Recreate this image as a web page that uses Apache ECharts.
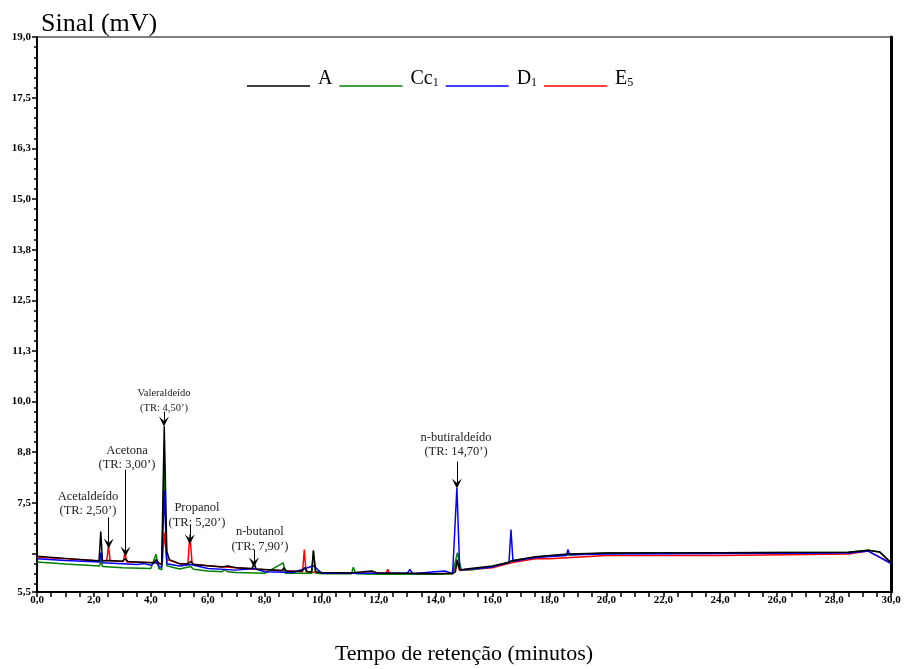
<!DOCTYPE html>
<html>
<head>
<meta charset="utf-8">
<script src="https://cdn.jsdelivr.net/npm/echarts@6/dist/echarts.min.js"></script>
<style>
  html, body { margin: 0; padding: 0; background: #fff; }
  #chart { width: 904px; height: 669px; }
</style>
</head>
<body>
<div id="chart"></div>
<script>
var serieA = [[0,6.18],[1,6.13],[2.0,6.08],[2.18,6.07],[2.24,6.79],[2.3,6.07],[2.5,6.08],[3.0,6.06],[3.1,6.12],[3.2,6.05],
  [3.8,6.03],[4.1,6.02],[4.18,6.1],[4.3,6.0],[4.38,5.98],[4.47,9.39],[4.56,6.3],[4.65,6.1],[5.0,6.0],[5.3,5.99],[5.4,6.06],
  [5.5,5.98],[6.0,5.95],[6.5,5.92],[6.7,5.94],[7.0,5.9],[7.55,5.88],[7.63,6.0],[7.7,5.87],[8.6,5.83],[8.68,5.9],[8.75,5.82],
  [9.3,5.81],[9.4,5.9],[9.5,5.8],[9.65,5.8],[9.71,6.33],[9.78,5.8],[10,5.78],[11,5.77],[11.76,5.82],[12,5.76],[13,5.76],
  [14,5.75],[14.6,5.76],[14.7,5.8],[14.76,6.1],[14.85,5.85],[15,5.86],[16,5.94],[16.55,6.03],[16.7,6.07],[17.5,6.17],
  [18,6.2],[18.65,6.24],[20,6.26],[24,6.27],[28.5,6.28],[29.2,6.33],[29.6,6.29],[30,6.02]];
var serieCc1 = [[0,6.04],[1,5.99],[2.2,5.94],[2.24,6.1],[2.3,5.93],[3,5.9],[4,5.88],[4.18,6.23],[4.28,5.88],[4.38,5.85],
  [4.47,8.5],[4.56,5.95],[5,5.87],[5.4,5.93],[5.5,5.86],[6,5.82],[6.5,5.8],[6.6,5.86],[6.7,5.8],[7,5.78],[8,5.76],
  [8.65,6.02],[8.72,5.76],[9.65,5.76],[9.71,6.3],[9.8,5.76],[10,5.75],[11.05,5.75],[11.11,5.91],[11.2,5.75],[12,5.74],
  [14,5.74],[14.6,5.75],[14.77,6.27],[14.9,5.85],[15.3,5.85],[16,5.93],[16.6,6.04],[16.7,6.08],[17.5,6.16],[18,6.19],
  [20,6.26],[24,6.27],[28.5,6.28],[29.2,6.33],[29.6,6.29],[30,6.03]];
var serieD1 = [[0,6.12],[1,6.08],[2.2,6.04],[2.24,6.27],[2.3,6.02],[3,6.0],[3.5,5.98],[3.75,6.0],[4,5.96],[4.18,6.05],
  [4.3,5.92],[4.38,5.92],[4.47,7.8],[4.56,6.0],[5,5.94],[5.4,5.98],[6,5.88],[7,5.84],[7.63,5.88],[8,5.8],[9,5.78],
  [9.71,5.95],[10,5.76],[13.0,5.76],[13.1,5.86],[13.2,5.75],[13.97,5.8],[14.33,5.82],[14.6,5.75],[14.75,7.87],
  [14.85,5.85],[15,5.85],[16,5.92],[16.58,6.03],[16.65,6.84],[16.72,6.06],[17.5,6.15],[18.6,6.2],[18.65,6.35],
  [18.72,6.22],[20,6.24],[24,6.25],[28.5,6.26],[29.2,6.31],[30,6.0]];
var serieE5 = [[0,6.16],[1,6.12],[2,6.08],[2.45,6.07],[2.51,6.45],[2.57,6.07],[3.03,6.05],[3.09,6.28],[3.15,6.04],
  [4,6.03],[4.4,6.0],[4.47,6.77],[4.56,6.1],[5,6.0],[5.3,6.0],[5.37,6.72],[5.45,5.99],[6,5.95],[7,5.9],[7.56,5.87],
  [7.63,5.91],[7.7,5.86],[9.33,5.8],[9.39,6.35],[9.45,5.8],[10,5.77],[12.26,5.76],[12.32,5.86],[12.38,5.76],[14.6,5.75],
  [14.75,6.03],[14.85,5.83],[16,5.9],[16.7,6.03],[17.5,6.12],[18,6.12],[20,6.2],[24,6.2],[28.5,6.24],[29.2,6.31],[30,6.02]];

var legendNames = ['A', 'Cc1', 'D1', 'E5'];
var lineColors = ['#000000', '#008000', '#0000ff', '#ff0000'];

// picos identificados
var picoNomes = ['Acetalde\u00eddo', 'Acetona', 'Valeralde\u00eddo', 'Propanol', 'n-butanol', 'n-butiralde\u00eddo'];
var picoTR = ['(TR: 2,50\u2019)', '(TR: 3,00\u2019)', '(TR: 4,50\u2019)', '(TR: 5,20\u2019)', '(TR: 7,90\u2019)', '(TR: 14,70\u2019)'];
var rotuloPos = [[1.79, 7.48], [3.16, 8.61], [4.46, 10.02], [5.62, 7.19], [7.83, 6.6], [14.72, 8.93]];
var setaX = [2.52, 3.11, 4.46, 5.37, 7.62, 14.75];
var setaTopo = [7.14, 8.32, 9.75, 6.97, 6.35, 8.52];
var setaPonta = [6.50, 6.30, 9.51, 6.60, 6.03, 7.98];

var xTicks = { min: 0, max: 30, interval: 2 };
var yMin = 5.3, yMax = 19;
var yLabelValues = [5.3, 7.5, 8.75, 10, 11.25, 12.5, 13.75, 15, 16.25, 17.5, 19];
var yMajorTicks = [5.3, 6.25, 7.5, 8.75, 10, 11.25, 12.5, 13.75, 15, 16.25, 17.5, 19];
var yMinorTicks = [];
for (var v = 5.5; v < 19; v += 0.25) yMinorTicks.push(+v.toFixed(2));

var serif = 'Liberation Serif';
var chart = echarts.init(document.getElementById('chart'));

function fmt(v) {
  if (v === yMin) return '5,5';
  return v.toFixed(1).replace('.', ',');
}

var chevron = 'path://M5,0 L10,9 L5,5 L0,9 Z';

var markLines = [];
var markPts = [];
for (var i = 0; i < picoNomes.length; i++) {
  markLines.push([{ coord: [setaX[i], setaTopo[i]] }, { coord: [setaX[i], setaPonta[i]] }]);
  markPts.push({
    coord: rotuloPos[i],
    value: picoNomes[i] + '\n' + picoTR[i],
    label: { fontSize: i === 2 ? 10.5 : 12.5, lineHeight: i === 2 ? 15 : 14.5 }
  });
}

var seriesData = [serieA, serieCc1, serieD1, serieE5];
var order = [3, 1, 2, 0];
var series = order.map(function (k) {
  var s = {
    name: legendNames[k],
    type: 'line',
    data: seriesData[k],
    showSymbol: false,
    symbol: 'none',
    lineStyle: { color: lineColors[k], width: 1.5 },
    itemStyle: { color: lineColors[k] },
    z: 2 + order.indexOf(k)
  };
  if (k === 0) {
    s.markLine = {
      silent: true,
      symbol: ['none', chevron],
      symbolSize: 10,
      lineStyle: { color: '#000', width: 1, type: 'solid' },
      label: { show: false },
      data: markLines
    };
    s.markPoint = {
      silent: true,
      symbol: 'circle',
      symbolSize: 1,
      itemStyle: { color: 'rgba(0,0,0,0)' },
      label: {
        show: true, position: 'inside', color: '#222', fontFamily: serif,
        formatter: function (p) { return p.value; }
      },
      data: markPts
    };
  }
  return s;
});

var option = {
  animation: false,
  backgroundColor: '#fff',
  title: {
    text: 'Sinal (mV)', left: 36, top: 6,
    textStyle: { fontFamily: serif, fontSize: 26, fontWeight: 'normal', color: '#000' }
  },
  legend: {
    data: legendNames,
    left: 242, top: 64,
    icon: 'rect', itemWidth: 63, itemHeight: 1.5, itemGap: 7,
    formatter: function (n) {
      var sub = { 'A': '', 'Cc1': '1', 'D1': '1', 'E5': '5' }[n];
      var base = n.replace(/\d$/, '');
      return '{b|' + base + '}' + (sub ? '{s|' + sub + '}' : '');
    },
    textStyle: {
      color: '#000', fontFamily: serif, fontSize: 20, padding: [0, 0, 16, 3],
      rich: {
        b: { fontFamily: serif, fontSize: 20, color: '#000', verticalAlign: 'bottom', lineHeight: 22 },
        s: { fontFamily: serif, fontSize: 12, color: '#000', verticalAlign: 'bottom', lineHeight: 15 }
      }
    }
  },
  grid: {
    left: 37, right: 13, top: 37, bottom: 77,
    outerBoundsMode: 'none',
    show: true, borderColor: '#000', borderWidth: 1, backgroundColor: 'transparent'
  },
  xAxis: {
    type: 'value', min: xTicks.min, max: xTicks.max, interval: xTicks.interval,
    name: 'Tempo de reten\u00e7\u00e3o (minutos)', nameLocation: 'middle', nameGap: 51,
    nameTextStyle: { fontFamily: serif, fontSize: 22, color: '#000' },
    axisLine: { lineStyle: { color: '#000', width: 2 } },
    axisTick: { length: 5, lineStyle: { color: '#000', width: 1.5 } },
    minorTick: { show: true, splitNumber: 4, length: 5, lineStyle: { color: '#000', width: 1.5 } },
    splitLine: { show: false },
    axisLabel: {
      margin: 3, fontFamily: serif, fontSize: 11, fontWeight: 'bold', color: '#000',
      formatter: function (v) { return v.toFixed(1).replace('.', ','); }
    }
  },
  yAxis: [{
    type: 'value', min: yMin, max: yMax,
    axisLine: { show: true, lineStyle: { color: '#000', width: 2 } },
    axisTick: { show: true, length: 5, customValues: yMajorTicks, lineStyle: { color: '#000', width: 1.5 } },
    splitLine: { show: false },
    axisLabel: {
      margin: 6, fontFamily: serif, fontSize: 11, fontWeight: 'bold', color: '#000',
      customValues: yLabelValues, formatter: fmt
    }
  }, {
    type: 'value', min: yMin, max: yMax, position: 'left',
    axisLine: { show: false },
    axisTick: { show: true, length: 3, customValues: yMinorTicks, lineStyle: { color: '#000', width: 1.5 } },
    axisLabel: { show: false },
    splitLine: { show: false }
  }, {
    type: 'value', min: yMin, max: yMax, position: 'right',
    axisLine: { show: true, lineStyle: { color: '#000', width: 3 } },
    axisTick: { show: false },
    axisLabel: { show: false },
    splitLine: { show: false }
  }],
  series: series
};

chart.setOption(option);
</script>
</body>
</html>
